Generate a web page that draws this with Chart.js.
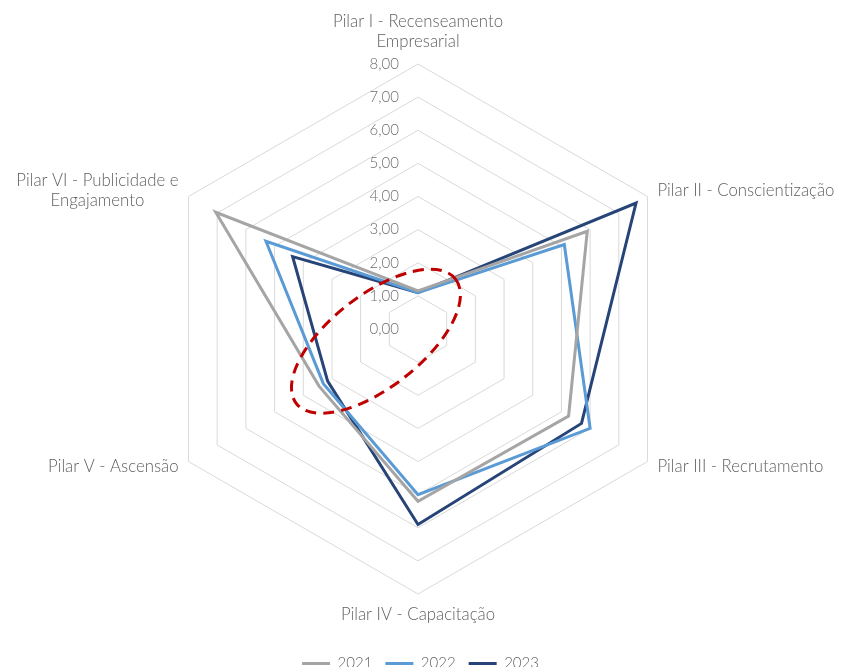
<!DOCTYPE html>
<html lang="pt">
<head>
    <meta charset="UTF-8">
    <title>Pilares 2021-2023</title>
    <script src="https://cdn.jsdelivr.net/npm/chart.js"></script>
    <style>
        html, body {
            margin: 0;
            padding: 0;
            background: #ffffff;
        }
        #chartContainer {
            width: 841px;
            height: 667px;
        }
    </style>
</head>
<body>
    <div id="chartContainer">
        <canvas id="pilarChart"></canvas>
    </div>

    <script>
        // Categories (axes of the radar)
        const pillars = [
            ['Pilar I - Recenseamento', 'Empresarial'],
            'Pilar II - Conscientização',
            'Pilar III - Recrutamento',
            'Pilar IV - Capacitação',
            'Pilar V - Ascensão',
            ['Pilar VI - Publicidade e', 'Engajamento']
        ];

        // Series values
        const values2021 = [1.15, 5.90, 5.25, 5.20, 3.45, 7.05];
        const values2022 = [1.10, 5.10, 6.00, 5.00, 3.30, 5.30];
        const values2023 = [1.10, 7.60, 5.70, 5.90, 3.15, 4.37];

        // Radial axis tick labels
        const tickLabels = ['0,00', '1,00', '2,00', '3,00', '4,00', '5,00', '6,00', '7,00', '8,00'];

        const textColor = '#5f5f5f';
        const fontFamily = 'Lato, "Open Sans", sans-serif';

        // Place the radar like the original: centre and radius
        function placeRadar(scale) {
            scale.xCenter = 418;
            scale.yCenter = 329;
            scale.drawingArea = 265;
        }

        // Tick labels sit to the left of the vertical axis
        const tickLabelPlugin = {
            id: 'tickLabelPlugin',
            beforeDatasetsDraw(chart) {
                const scale = chart.scales.r;
                const ctx = chart.ctx;
                ctx.save();
                ctx.font = '300 15px ' + fontFamily;
                ctx.fillStyle = '#6e6e6e';
                ctx.textAlign = 'right';
                ctx.textBaseline = 'middle';
                scale.ticks.forEach((tick, i) => {
                    const y = scale.yCenter - scale.getDistanceFromCenterForValue(tick.value);
                    ctx.fillText(tickLabels[i], scale.xCenter - 19, y);
                });
                ctx.restore();
            }
        };

        // Category labels, multi-line ones centred on themselves
        const pillarLabelPlugin = {
            id: 'pillarLabelPlugin',
            afterDraw(chart) {
                const scale = chart.scales.r;
                const ctx = chart.ctx;
                ctx.save();
                ctx.font = '300 16.8px ' + fontFamily;
                ctx.fillStyle = textColor;
                ctx.textAlign = 'center';
                ctx.textBaseline = 'middle';
                pillars.forEach((label, i) => {
                    const lines = [].concat(label);
                    const p = scale.getPointPosition(i, scale.drawingArea);
                    const w = Math.max(...lines.map(l => ctx.measureText(l).width));
                    const blockH = lines.length * 20;
                    let cx = p.x;
                    let top;
                    if (Math.abs(p.x - scale.xCenter) <= 1) {
                        top = p.y < scale.yCenter ? p.y - 12 - blockH : p.y + 11;
                    } else {
                        cx = p.x > scale.xCenter ? p.x + 10 + w / 2 : p.x - 10 - w / 2;
                        top = p.y + (p.y < scale.yCenter ? -5.5 : 5.5) - blockH / 2;
                    }
                    lines.forEach((line, k) => ctx.fillText(line, cx, top + 10 + k * 20));
                });
                ctx.restore();
            }
        };

        // Red dashed ellipse drawn over the chart (annotation)
        const ellipsePlugin = {
            id: 'ellipsePlugin',
            afterDatasetsDraw(chart) {
                const scale = chart.scales.r;
                const ctx = chart.ctx;
                const unit = scale.drawingArea / 8;
                ctx.save();
                ctx.beginPath();
                ctx.ellipse(scale.xCenter - 1.27 * unit, scale.yCenter + 0.37 * unit,
                    3.05 * unit, 1.39 * unit, -38 * Math.PI / 180, 0, 2 * Math.PI);
                ctx.strokeStyle = '#C00000';
                ctx.lineWidth = 3;
                ctx.setLineDash([11, 7]);
                ctx.stroke();
                ctx.restore();
            }
        };

        const ctx = document.getElementById('pilarChart').getContext('2d');
        const pilarChart = new Chart(ctx, {
            type: 'radar',
            data: {
                labels: pillars,
                datasets: [
                    {
                        label: '2021',
                        data: values2021,
                        borderColor: '#A5A5A5',
                        backgroundColor: '#A5A5A5',
                        borderWidth: 3,
                        pointRadius: 0,
                        fill: false
                    },
                    {
                        label: '2022',
                        data: values2022,
                        borderColor: '#5B9BD5',
                        backgroundColor: '#5B9BD5',
                        borderWidth: 3,
                        pointRadius: 0,
                        fill: false
                    },
                    {
                        label: '2023',
                        data: values2023,
                        borderColor: '#264478',
                        backgroundColor: '#264478',
                        borderWidth: 3,
                        pointRadius: 0,
                        fill: false
                    }
                ]
            },
            options: {
                responsive: true,
                maintainAspectRatio: false,
                animation: false,
                layout: {
                    padding: { bottom: -14 }
                },
                elements: {
                    line: { tension: 0, borderJoinStyle: 'miter' }
                },
                scales: {
                    r: {
                        min: 0,
                        max: 8,
                        ticks: {
                            stepSize: 1,
                            display: false
                        },
                        grid: {
                            color: '#D9D9D9',
                            lineWidth: 1
                        },
                        angleLines: { display: false },
                        pointLabels: { display: false },
                        afterFit: placeRadar
                    }
                },
                plugins: {
                    legend: {
                        position: 'bottom',
                        labels: {
                            usePointStyle: true,
                            pointStyle: 'line',
                            pointStyleWidth: 28,
                            padding: 13,
                            color: textColor,
                            font: { family: fontFamily, size: 15, weight: 300 }
                        }
                    },
                    tooltip: { enabled: false }
                }
            },
            plugins: [tickLabelPlugin, ellipsePlugin, pillarLabelPlugin]
        });
    </script>
</body>
</html>
